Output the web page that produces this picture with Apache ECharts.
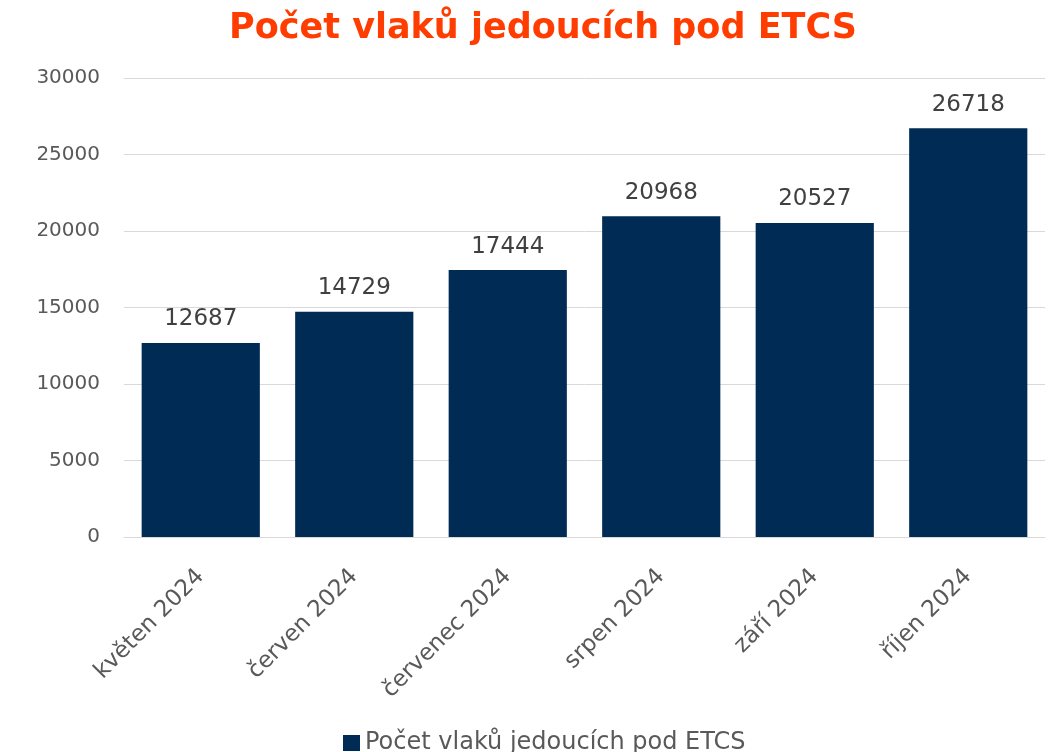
<!DOCTYPE html>
<html>
<head>
<meta charset="UTF-8">
<title>Počet vlaků jedoucích pod ETCS</title>
<script src="https://cdn.jsdelivr.net/npm/echarts@6/dist/echarts.min.js"></script>
<style>
  html, body { margin: 0; padding: 0; background: #fff; }
  #main { width: 1051px; height: 752px; }
</style>
</head>
<body>
<div id="main"></div>
<script>
// data
var months = ['květen 2024', 'červen 2024', 'červenec 2024', 'srpen 2024', 'září 2024', 'říjen 2024'];
var trains = [12687, 14729, 17444, 20968, 20527, 26718];
var seriesName = 'Počet vlaků jedoucích pod ETCS';

var font = '"DejaVu Sans", sans-serif';
var chart = echarts.init(document.getElementById('main'));

chart.setOption({
  animation: false,
  title: {
    text: 'Počet vlaků jedoucích pod ETCS',
    left: 538,
    textAlign: 'center',
    top: 6,
    textStyle: { color: '#ff3d00', fontSize: 35, fontWeight: 'bold', fontFamily: font }
  },
  legend: {
    data: [seriesName],
    top: 726,
    left: 338,
    itemWidth: 17,
    itemHeight: 16,
    itemGap: 5,
    icon: 'rect',
    textStyle: { color: '#595959', fontSize: 24, fontFamily: font }
  },
  grid: { left: 124, right: 6, top: 78, bottom: 215 },
  xAxis: {
    type: 'category',
    data: months,
    axisTick: { show: false },
    axisLine: { lineStyle: { color: '#d9d9d9', width: 1 } },
    axisLabel: {
      rotate: 45,
      color: '#595959',
      fontSize: 23,
      fontFamily: font,
      margin: 36
    }
  },
  yAxis: {
    type: 'value',
    min: 0,
    max: 30000,
    interval: 5000,
    axisLine: { show: false },
    axisTick: { show: false },
    splitLine: { lineStyle: { color: '#d9d9d9', width: 1 } },
    axisLabel: {
      color: '#595959', fontSize: 20, fontFamily: font, margin: 24,
      formatter: function (v) { return String(v); }
    }
  },
  series: [{
    name: seriesName,
    type: 'bar',
    data: trains,
    barWidth: '77%',
    itemStyle: { color: '#002b55' },
    label: {
      show: true,
      position: 'top',
      distance: 12,
      color: '#404040',
      fontSize: 23,
      fontFamily: font
    }
  }]
});
</script>
</body>
</html>
